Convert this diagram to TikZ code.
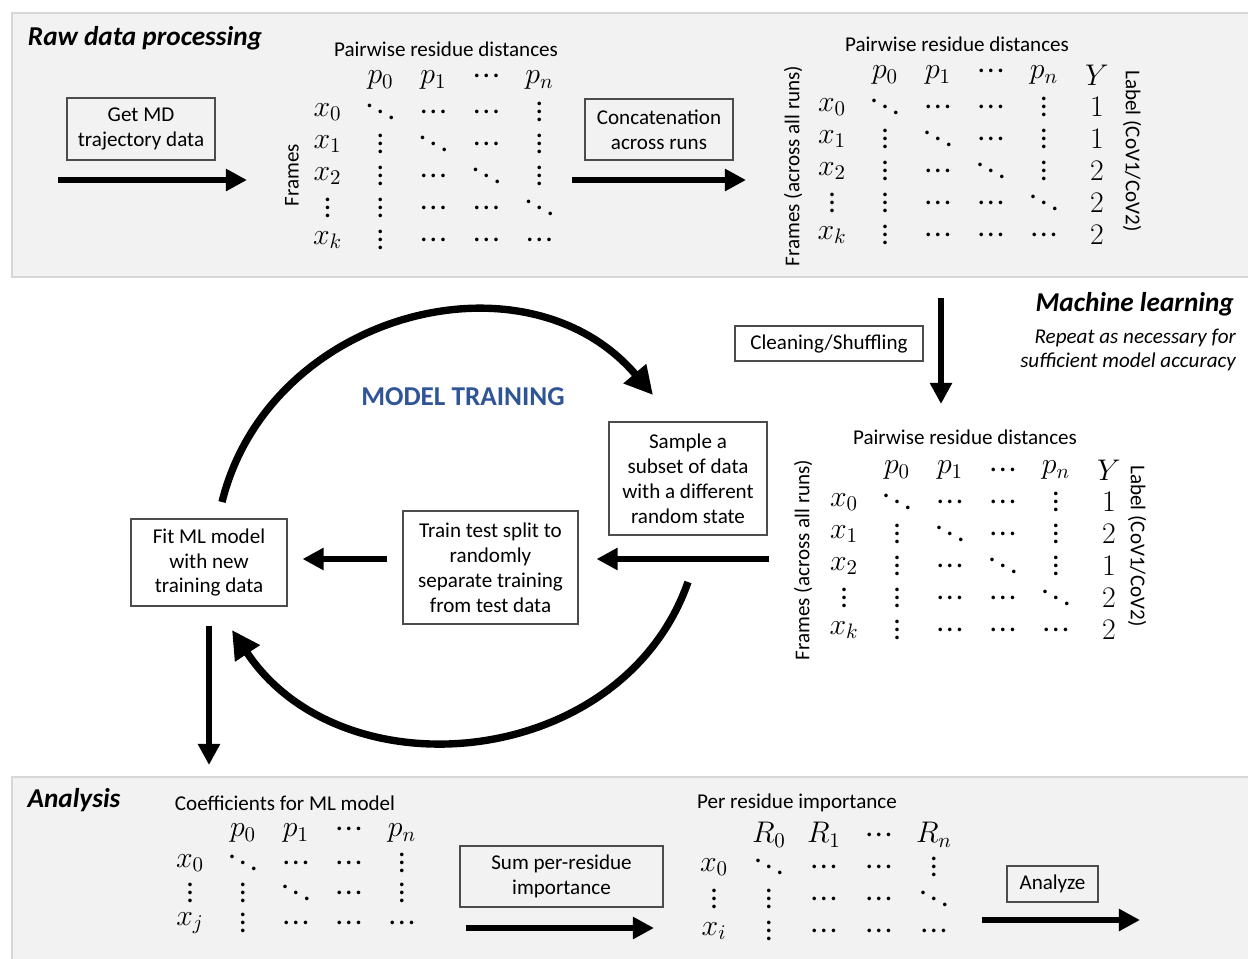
\RequirePackage{fix-cm}
\documentclass[tikz,border=0pt]{standalone}
\usepackage{fontspec}
\setmainfont{Carlito}
\usetikzlibrary{matrix,arrows.meta}
\definecolor{panelgray}{RGB}{242,242,242}
\definecolor{panelline}{RGB}{215,215,215}
\definecolor{trainblue}{RGB}{47,85,151}
% compact dots, centred in their cells
\newcommand\mvdots{\vbox{\baselineskip4.5pt\lineskiplimit0pt\hbox{.}\hbox{.}\hbox{.}}}
\newcommand\mddots{\mathinner{\mkern1mu\raise7pt\hbox{.}\mkern2mu\raise3.5pt\hbox{.}\mkern2mu\hbox{.}\mkern1mu}}
\newcommand\mhdots{\hbox{.\kern1.2pt.\kern1.2pt.}}
\tikzset{
  panel/.style={fill=panelgray, draw=panelline, line width=0.8pt},
  stepbox/.style={draw=black!70, line width=0.6pt, align=center, inner sep=0pt,
    font=\fontsize{12}{14.2}\selectfont},
  lbl/.style={font=\fontsize{12}{14}\selectfont},
  heading/.style={font=\fontsize{15.5}{18}\selectfont\bfseries\itshape},
  mat/.style 2 args={matrix of math nodes, column sep=0pt, row sep=0pt,
    nodes={anchor=center, minimum width=#1, minimum height=#2, inner sep=0pt,
      font=\fontsize{17}{19}\selectfont}},
  bigarrow/.style={line width=3.6pt, -{Triangle[length=12pt,width=12pt]}},
  cyclearrow/.style={line width=4.2pt, -{Triangle[length=16pt,width=16pt]}}
}
\begin{document}
\begin{tikzpicture}[x=0.02cm, y=-0.02cm]
\useasboundingbox (0,0) rectangle (1248,958);
% panels
\draw[panel] (12,13) rectangle (1262,277);
\draw[panel] (12,777) rectangle (1262,972);

% raw data processing
\node[heading] (rawhead) at (145,38) {Raw data processing};
\node[stepbox, minimum width=2.96cm, minimum height=1.24cm] (getmd) at (141,129) {Get MD\\trajectory data};
\coordinate (raw0) at (58,180);
\coordinate (raw1) at (247,180);
\draw[bigarrow] (raw0) -- (raw1);

\node[lbl] (dist1title) at (446,49) {Pairwise residue distances};
\matrix (dist1) [mat={1.06cm}{0.64cm}] at (433.5,160) {
          & p_0     & p_1     & \raise5pt\mhdots & p_n     \\
  x_0     & \mddots & \mhdots & \mhdots & \mvdots \\
  x_1     & \mvdots & \mddots & \mhdots & \mvdots \\
  x_2     & \mvdots & \mhdots & \mddots & \mvdots \\
  \mvdots & \mvdots & \mhdots & \mhdots & \mddots \\
  x_k     & \mvdots & \mhdots & \mhdots & \mhdots \\
};
\node[lbl, rotate=90] (frames1) at (292,175) {Frames};

\node[stepbox, minimum width=2.96cm, minimum height=1.22cm] (concat) at (659,129.5) {Concatenation\\across runs};
\coordinate (cat0) at (572,180);
\coordinate (cat1) at (746,180);
\draw[bigarrow] (cat0) -- (cat1);

\node[lbl] (dist2title) at (957,44) {Pairwise residue distances};
\matrix (dist2) [mat={1.06cm}{0.64cm}] at (964.5,155) {
          & p_0     & p_1     & \raise5pt\mhdots & p_n     & Y \\
  x_0     & \mddots & \mhdots & \mhdots & \mvdots & 1 \\
  x_1     & \mvdots & \mddots & \mhdots & \mvdots & 1 \\
  x_2     & \mvdots & \mhdots & \mddots & \mvdots & 2 \\
  \mvdots & \mvdots & \mhdots & \mhdots & \mddots & 2 \\
  x_k     & \mvdots & \mhdots & \mhdots & \mhdots & 2 \\
};
\node[lbl, rotate=90] (frames2) at (793,166) {Frames (across all runs)};
\node[lbl, rotate=-90] (label2) at (1132,151) {Label (CoV1/CoV2)};

% machine learning
\node[heading, anchor=east] (mlhead) at (1240,304) {Machine learning};
\node[anchor=east, align=right, font=\fontsize{12}{13.6}\selectfont\itshape] (mlnote) at (1242,350) {Repeat as necessary for\\sufficient model accuracy};
\node[stepbox, minimum width=3.76cm, minimum height=0.7cm] (clean) at (829,343.5) {Cleaning/Shuffling};
\coordinate (ml0) at (941,298);
\coordinate (ml1) at (941,404);
\draw[bigarrow] (ml0) -- (ml1);

\node[lbl] (dist3title) at (965,437) {Pairwise residue distances};
\matrix (dist3) [mat={1.06cm}{0.64cm}] at (976.5,550) {
          & p_0     & p_1     & \mhdots & p_n     & Y \\
  x_0     & \mddots & \mhdots & \mhdots & \mvdots & 1 \\
  x_1     & \mvdots & \mddots & \mhdots & \mvdots & 2 \\
  x_2     & \mvdots & \mhdots & \mddots & \mvdots & 1 \\
  \mvdots & \mvdots & \mhdots & \mhdots & \mddots & 2 \\
  x_k     & \mvdots & \mhdots & \mhdots & \mhdots & 2 \\
};
\node[lbl, rotate=90] (frames3) at (803,560) {Frames (across all runs)};
\node[lbl, rotate=-90] (label3) at (1137,546) {Label (CoV1/CoV2)};

\node[stepbox, minimum width=3.16cm, minimum height=2.26cm] (sample) at (688,478.5) {Sample a\\subset of data\\with a different\\random state};
\node[stepbox, minimum width=3.5cm, minimum height=2.26cm] (train) at (490.5,567.5) {Train test split to\\randomly\\separate training\\from test data};
\node[stepbox, minimum width=3.12cm, minimum height=1.74cm] (fit) at (209,562.5) {Fit ML model\\with new\\training data};
\node[font=\fontsize{15.5}{18}\selectfont\bfseries, text=trainblue] (mtrain) at (463,397) {MODEL TRAINING};

\coordinate (dist3in) at (769,559);
\draw[bigarrow, shorten >=0.36cm] (dist3in) -- (train.east |- dist3in);
\draw[bigarrow, shorten <=0.3cm, shorten >=0.3cm] (train.west |- dist3in) -- (fit.east |- dist3in);

% training loop
\coordinate (arcA) at (222,502);
\coordinate (arcB) at (653,395);
\draw[cyclearrow] (arcA) .. controls (269,312) and (526,246) .. (arcB);
\coordinate (arcC) at (688,582);
\coordinate (arcD) at (232,630);
\draw[cyclearrow] (arcC) .. controls (622,770) and (342,796) .. (arcD);

\coordinate (ana0) at (fit.south);
\coordinate (ana1) at (209,765);
\draw[bigarrow, shorten <=0.38cm] (ana0) -- (ana1);

% analysis
\node[heading] (anahead) at (74,800) {Analysis};
\node[lbl] (coeftitle) at (285,803) {Coefficients for ML model};
\matrix (coef) [mat={1.06cm}{0.6cm}] at (296,878) {
          & p_0     & p_1     & \raise5pt\mhdots & p_n     \\
  x_0     & \mddots & \mhdots & \mhdots & \mvdots \\
  \mvdots & \mvdots & \mddots & \mhdots & \mvdots \\
  x_j     & \mvdots & \mhdots & \mhdots & \mhdots \\
};
\node[stepbox, minimum width=4.06cm, minimum height=1.22cm] (sumbox) at (561.5,876.5) {Sum per-residue\\importance};
\coordinate (sum0) at (466,928);
\coordinate (sum1) at (654,928);
\draw[bigarrow] (sum0) -- (sum1);

\node[lbl] (imptitle) at (797,803) {Per residue importance};
\matrix (imp) [mat={1.1cm}{0.64cm}] at (824,883) {
          & R_0     & R_1     & \mhdots & R_n     \\
  x_0     & \mddots & \mhdots & \mhdots & \mvdots \\
  \mvdots & \mvdots & \mhdots & \mhdots & \mddots \\
  x_i     & \mvdots & \mhdots & \mhdots & \mhdots \\
};
\node[stepbox, minimum width=1.82cm, minimum height=0.72cm] (analyze) at (1052.5,884) {Analyze};
\coordinate (out0) at (982,920);
\coordinate (out1) at (1140,920);
\draw[bigarrow] (out0) -- (out1);
\end{tikzpicture}
\end{document}
